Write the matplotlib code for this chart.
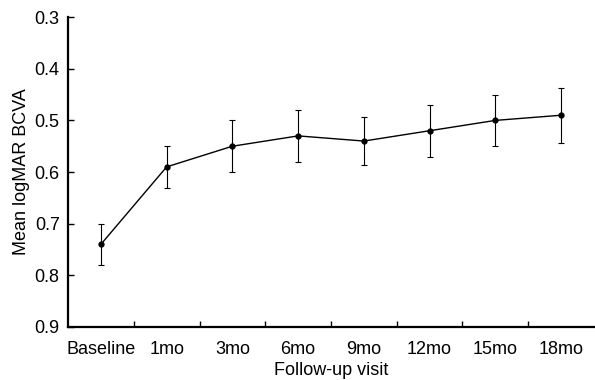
import matplotlib
matplotlib.use('Agg')
import matplotlib.pyplot as plt
import numpy as np

visits = ['Baseline', '1mo', '3mo', '6mo', '9mo', '12mo', '15mo', '18mo']
mean_bcva = [0.74, 0.59, 0.55, 0.53, 0.54, 0.52, 0.50, 0.49]
err_bcva = [0.04, 0.04, 0.05, 0.05, 0.047, 0.05, 0.05, 0.053]

plt.rcParams['font.family'] = ['Liberation Sans', 'DejaVu Sans']

fig = plt.figure(figsize=(5.95, 3.8), dpi=100)
ax = fig.add_axes([0.1143, 0.1395, 0.884, 0.8155])

x = np.arange(len(visits))
ax.errorbar(x, mean_bcva, yerr=err_bcva, color='black', lw=1.0,
            marker='o', ms=3.5, elinewidth=0.8, capsize=2, capthick=0.8)

ax.set_xlim(-0.5, len(visits) - 0.5)
ax.set_ylim(0.9, 0.3)
ax.set_yticks(np.arange(0.3, 0.91, 0.1))
ax.set_yticklabels(['%.1f' % v for v in np.arange(0.3, 0.91, 0.1)])

# tick marks between categories, labels at centres
ax.set_xticks(np.arange(0.5, len(visits) - 1, 1.0))
ax.set_xticklabels([])
ax.set_xticks(x, minor=True)
ax.set_xticklabels(visits, minor=True)
ax.tick_params(axis='x', which='major', direction='in', length=4, width=1)
ax.tick_params(axis='x', which='minor', length=0, pad=10, labelsize=13)
ax.tick_params(axis='y', direction='in', length=4, width=1, labelsize=13, pad=6)

for s in ['top', 'right']:
    ax.spines[s].set_visible(False)
for s in ['left', 'bottom']:
    ax.spines[s].set_linewidth(1.6)

ax.set_xlabel('Follow-up visit', fontsize=13, labelpad=3)
ax.set_ylabel('Mean logMAR BCVA', fontsize=13, labelpad=3)

fig.savefig('out.png', dpi=100)
